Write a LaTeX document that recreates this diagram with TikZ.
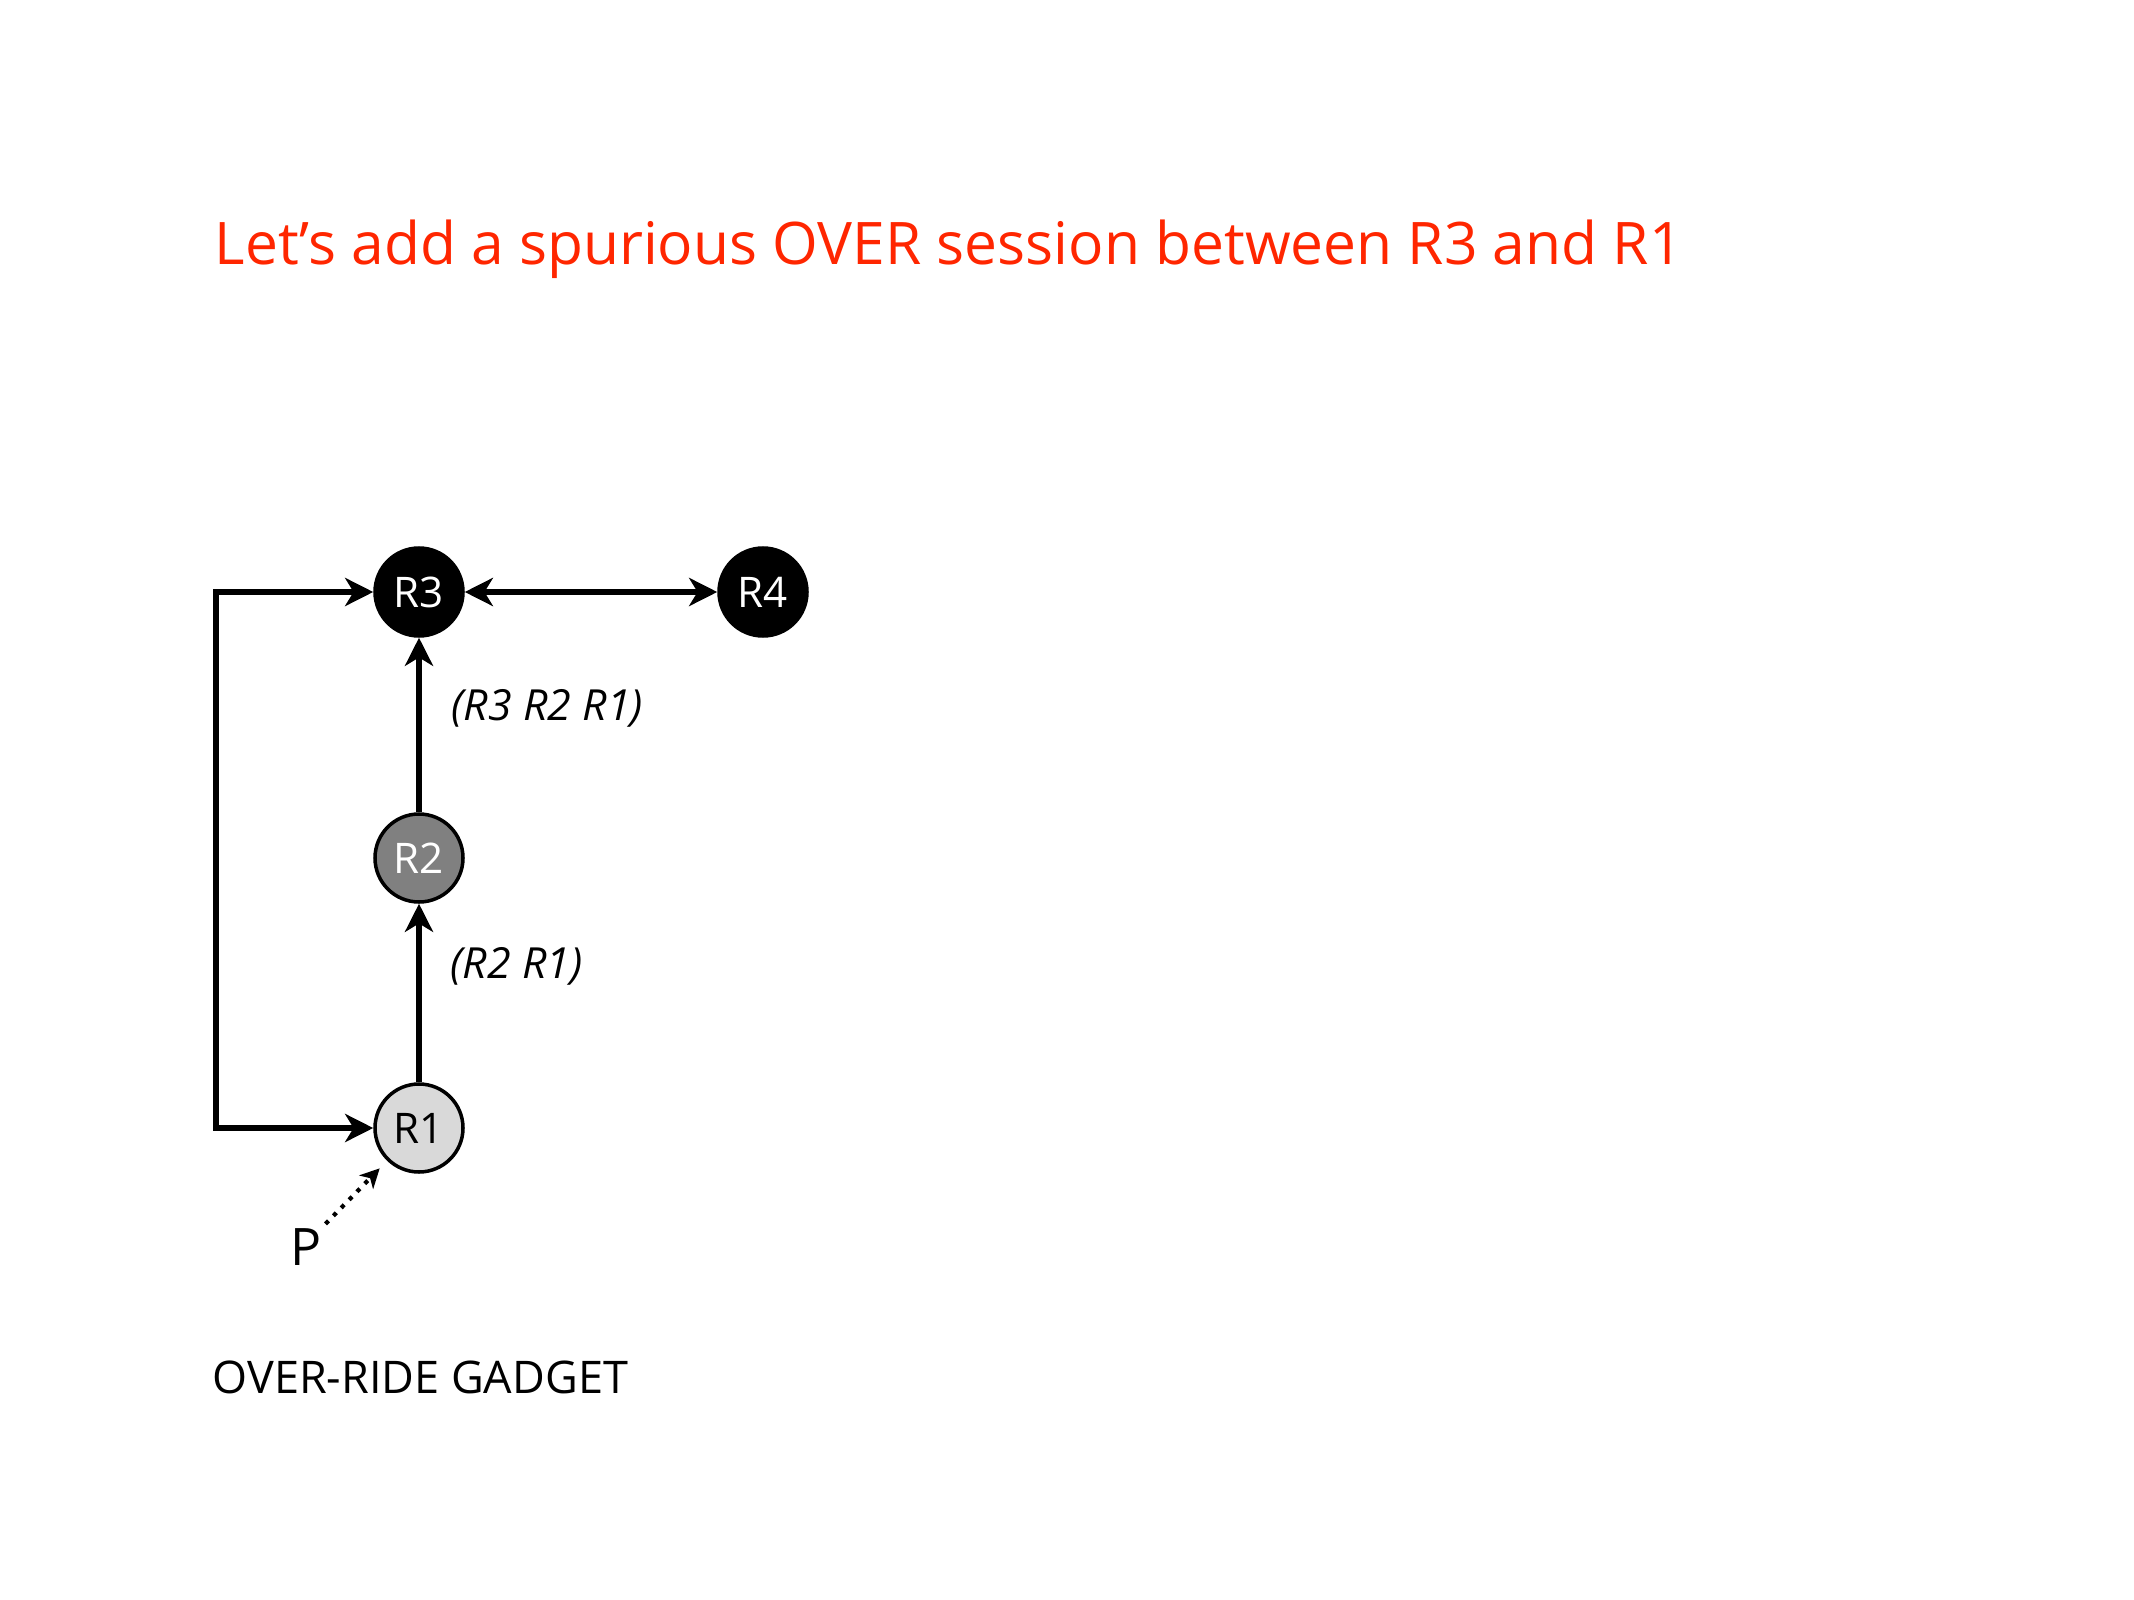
\documentclass[tikz,border=0pt]{standalone}
\usepackage{fontspec}
\setmainfont{Open Sans}
\usetikzlibrary{arrows.meta}
\definecolor{titlered}{RGB}{255,38,0}
\begin{document}
\begin{tikzpicture}[
    >={Stealth[length=8pt,width=8pt,inset=2.4pt]},
    router/.style={circle,draw=black,line width=1pt,minimum size=0.88cm,inner sep=0pt,font=\fontsize{12}{14}\selectfont},
    link/.style={line width=1.5pt},
    path label/.style={font=\fontsize{12.2}{14}\selectfont\itshape,inner sep=0pt}
  ]
    \useasboundingbox (0,0) rectangle (21.34,-16);

    \node[titlered,anchor=base west,inner sep=0pt,font=\fontsize{16.7}{20}\selectfont] (title) at (2.14,-2.65) {Let’s add a spurious OVER session between R3 and R1};

    \node[router,fill=black,text=white] (R3) at (4.19,-5.92) {R3};
    \node[router,fill=black,text=white] (R4) at (7.63,-5.92) {R4};
    \node[router,fill=black!50,text=white] (R2) at (4.19,-8.58) {R2};
    \node[router,fill=black!15] (R1) at (4.19,-11.28) {R1};

    \coordinate (corner) at (2.16,-11.28);

    \draw[link,<->] (R3) -- (R4);
    \draw[link,->] (R2) -- (R3);
    \draw[link,->] (R1) -- (R2);
    \draw[link,<->] (R1) -- (corner) |- (R3);

    \node[path label,anchor=base west] (l32) at (4.51,-7.20) {(R3 R2 R1)};
    \node[path label,anchor=base west] (l21) at (4.50,-9.78) {(R2 R1)};

    \node[anchor=base west,inner sep=1pt,font=\fontsize{14.7}{17}\selectfont] (P) at (2.86,-12.65) {P};
    \draw[line width=1.2pt,dotted,-{Stealth[length=5.5pt,width=5.5pt,inset=1.6pt]},shorten >=3pt] (P.north east) -- (R1);

    \node[anchor=base west,inner sep=0pt,font=\fontsize{12.8}{15}\selectfont] (gadget) at (2.12,-13.93) {OVER-RIDE GADGET};
\end{tikzpicture}
\end{document}
